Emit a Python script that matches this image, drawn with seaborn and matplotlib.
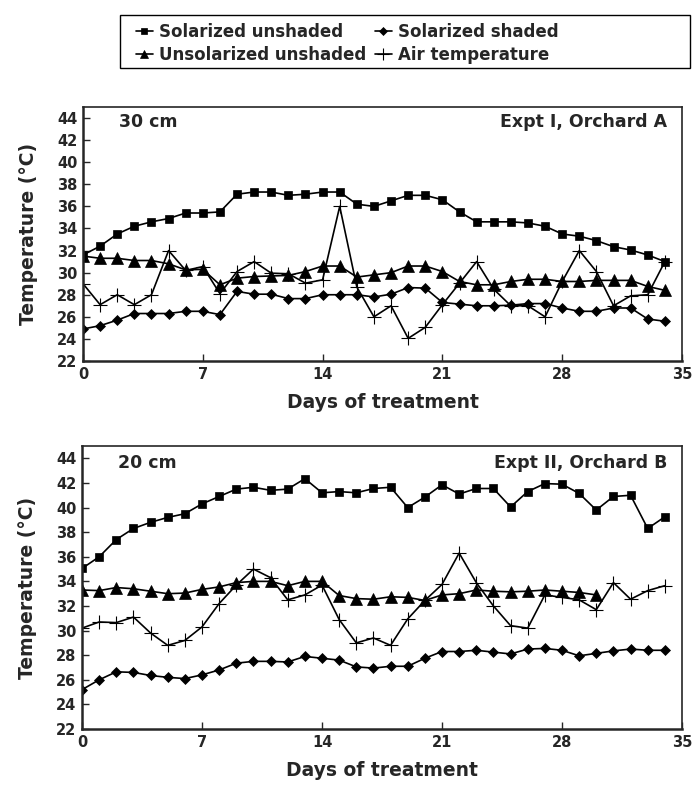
import numpy as np
import pandas as pd
import matplotlib
matplotlib.use("Agg")
import matplotlib.pyplot as plt
from matplotlib.patches import Rectangle
import seaborn as sns

# ---------------- data ----------------
days = list(range(35))

# Panel A: 30 cm, Expt I, Orchard A
a_sol_unsh = [31.6, 32.4, 33.5, 34.2, 34.6, 34.9, 35.4, 35.4, 35.5, 37.1, 37.3, 37.3, 37.0, 37.1, 37.3, 37.3,
              36.2, 36.0, 36.5, 37.0, 37.0, 36.6, 35.5, 34.6, 34.6, 34.6, 34.5, 34.2, 33.5, 33.3, 32.9, 32.35,
              32.05, 31.6, 31.0]
a_sol_sh = [24.9, 25.2, 25.7, 26.3, 26.3, 26.3, 26.5, 26.5, 26.2, 28.3, 28.05, 28.05, 27.65, 27.65, 28.0, 28.0,
            28.0, 27.8, 28.05, 28.65, 28.6, 27.3, 27.15, 27.0, 27.0, 27.05, 27.2, 27.2, 26.8, 26.5, 26.5, 26.8,
            26.8, 25.8, 25.6]
a_unsol_unsh = [31.5, 31.3, 31.3, 31.1, 31.1, 30.8, 30.25, 30.3, 28.9, 29.5, 29.65, 29.7, 29.75, 30.1, 30.6, 30.6,
                29.6, 29.8, 30.0, 30.6, 30.6, 30.1, 29.2, 28.9, 28.9, 29.2, 29.4, 29.4, 29.2, 29.2, 29.3, 29.3,
                29.3, 28.75, 28.4]
a_air = [29.0, 27.1, 28.0, 27.1, 28.0, 32.0, 30.2, 30.55, 28.1, 30.1, 31.0, 29.95, 29.9, 29.05, 29.35, 36.0,
         28.7, 26.0, 27.0, 24.05, 25.05, 27.1, 29.05, 31.0, 28.5, 27.0, 27.0, 26.0, 29.2, 32.0, 30.1, 27.0,
         27.9, 28.0, 31.0]

# Panel B: 20 cm, Expt II, Orchard B
b_sol_unsh = [35.05, 36.0, 37.4, 38.3, 38.8, 39.2, 39.5, 40.3, 40.9, 41.5, 41.65, 41.4, 41.5, 42.35, 41.2, 41.3,
              41.2, 41.55, 41.65, 40.0, 40.85, 41.85, 41.1, 41.55, 41.55, 40.05, 41.3, 41.95, 41.9, 41.15, 39.8,
              40.9, 41.0, 38.3, 39.25]
b_sol_sh = [25.2, 26.0, 26.65, 26.6, 26.35, 26.2, 26.1, 26.4, 26.8, 27.35, 27.5, 27.5, 27.45, 27.9, 27.75, 27.6,
            27.05, 26.95, 27.1, 27.1, 27.75, 28.3, 28.3, 28.4, 28.25, 28.1, 28.5, 28.55, 28.4, 27.95, 28.15,
            28.35, 28.5, 28.4, 28.4]
b_unsol_unsh = [33.3, 33.25, 33.5, 33.4, 33.2, 33.0, 33.05, 33.35, 33.55, 33.9, 34.0, 34.0, 33.65, 34.0, 34.0,
                32.85, 32.6, 32.55, 32.75, 32.7, 32.45, 32.9, 33.0, 33.3, 33.2, 33.15, 33.2, 33.3, 33.2, 33.1, 32.9]
b_air = [30.2, 30.7, 30.65, 31.1, 29.8, 28.8, 29.2, 30.3, 32.2, 33.7, 35.0, 34.3, 32.5, 32.9, 33.7, 30.9, 29.0,
         29.4, 28.8, 30.95, 32.45, 33.75, 36.3, 33.9, 32.0, 30.4, 30.2, 32.9, 32.7, 32.5, 31.7, 33.9, 32.55,
         33.25, 33.65]

series_names = ["Solarized unshaded", "Solarized shaded", "Unsolarized unshaded", "Air temperature"]
x_ticks = [0, 7, 14, 21, 28, 35]
y_ticks = list(range(22, 46, 2))
panel_depths = ["30 cm", "20 cm"]
panel_titles = ["Expt I, Orchard A", "Expt II, Orchard B"]

# ---------------- style ----------------
sns.set_style("ticks")
plt.rcParams["font.family"] = ["DejaVu Sans"]
plt.rcParams["font.weight"] = "bold"

styles = {
    "Solarized unshaded": dict(marker="s", markersize=6),
    "Solarized shaded": dict(marker="D", markersize=5.5),
    "Unsolarized unshaded": dict(marker="^", markersize=8),
    "Air temperature": dict(marker="+", markersize=10, markeredgewidth=0.8),
}

fig = plt.figure(figsize=(6.94, 7.86), dpi=100)
ax_a = fig.add_axes([0.1196, 0.5407, 0.8631, 0.3232])
ax_b = fig.add_axes([0.1182, 0.0725, 0.8645, 0.3600])

panels = [
    (ax_a, [a_sol_unsh, a_sol_sh, a_unsol_unsh, a_air]),
    (ax_b, [b_sol_unsh, b_sol_sh, b_unsol_unsh, b_air]),
]

for i, (ax, data) in enumerate(panels):
    for name, vals in zip(series_names, data):
        st = styles[name]
        sns.lineplot(x=days[:len(vals)], y=vals, ax=ax, color="black", linewidth=1.2,
                     marker=st["marker"], markersize=st["markersize"],
                     markeredgewidth=st.get("markeredgewidth", 0.5),
                     markeredgecolor="black", markerfacecolor="black",
                     label=name, legend=False)
    ax.set_xlim(0, 35)
    ax.set_ylim(22, 45)
    ax.set_xticks(x_ticks)
    ax.set_yticks(y_ticks)
    ax.tick_params(direction="in", length=5, width=1.0, labelsize=10.5, pad=4)
    for lab in ax.get_xticklabels() + ax.get_yticklabels():
        lab.set_fontweight("bold")
    ax.set_xlabel("Days of treatment", fontsize=13.5, fontweight="bold", labelpad=8)
    ax.set_ylabel("Temperature (°C)", fontsize=13.5, fontweight="bold", labelpad=14)
    for side in ["left", "bottom"]:
        ax.spines[side].set_linewidth(1.8)
    for side in ["top", "right"]:
        ax.spines[side].set_linewidth(1.2)
        ax.spines[side].set_visible(True)
    ax.text(0.06, 0.94, panel_depths[i], transform=ax.transAxes, fontsize=12.5,
            fontweight="bold", ha="left", va="center")
    ax.text(0.975, 0.94, panel_titles[i], transform=ax.transAxes, fontsize=12.5,
            fontweight="bold", ha="right", va="center")

handles, labels = ax_a.get_legend_handles_labels()
order = [0, 2, 1, 3]  # row-wise: Sol. unshaded, Sol. shaded / Unsol. unshaded, Air
leg = fig.legend([handles[k] for k in order], [labels[k] for k in order], ncol=2,
                 loc="upper left", bbox_to_anchor=(0.172, 0.992),
                 frameon=False, prop={"weight": "bold", "size": 12},
                 handlelength=1.0, handletextpad=0.4, columnspacing=0.5,
                 borderpad=0.5, labelspacing=0.3)
for h in leg.legend_handles:
    h.set_markersize(h.get_markersize() * 0.8)

# legend frame (wider than the entries, as in the reference)
fig.patches.append(Rectangle((120 / 694, 1 - 68 / 786), (690 - 120) / 694, (68 - 15) / 786,
                             transform=fig.transFigure, fill=False, edgecolor="black",
                             linewidth=1.0))

fig.savefig("out.png", dpi=100)
